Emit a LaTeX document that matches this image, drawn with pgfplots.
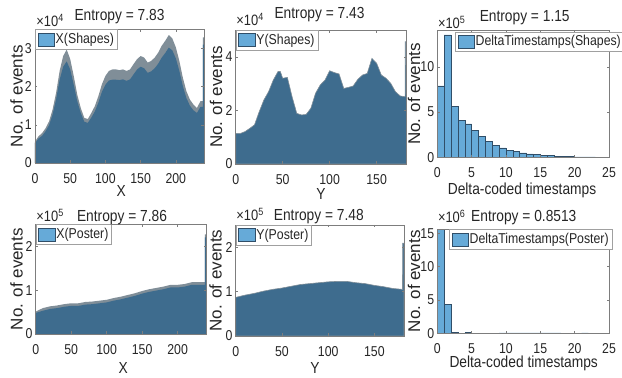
\documentclass[border=0pt]{standalone}
\usepackage{fontspec}
\setmainfont{Liberation Sans}[FakeStretch=0.86]
\newfontfamily\ylabfont{Liberation Sans}
\usepackage{pgfplots}
\pgfplotsset{compat=1.18}
\definecolor{mltext}{RGB}{38,38,38}
\definecolor{mlaxis}{RGB}{125,125,125}
\definecolor{mlblue}{RGB}{102,170,216}
\definecolor{mledge}{RGB}{48,78,104}
\definecolor{dkfill}{RGB}{62,108,142}
\definecolor{gyband}{RGB}{128,142,152}
\definecolor{lgbox}{RGB}{160,160,160}
\newcommand\tickfont{\fontsize{14.3}{14.3}\selectfont}
\newcommand\labfont{\fontsize{16}{16}\selectfont}
\newcommand\legfont{\fontsize{14.3}{14.3}\selectfont}
\newcommand\expfont{\fontsize{15}{15}\selectfont}
\newcommand\ylfont{\ylabfont\fontsize{17}{17}\selectfont}
\pgfplotsset{
  ml/.style={
    scale only axis, anchor=south west, axis on top,
    xmin=0, ymin=0,
    axis line style={draw=mlaxis, line width=0.5pt},
    tick style={draw=mlaxis, line width=0.5pt},
    major tick length=2.5pt, tick align=inside,
    xtick pos=both, ytick pos=both,
    ticklabel style={font=\tickfont, text=mltext},
    xticklabel style={inner sep=0pt, anchor=north, yshift=-10pt},
    yticklabel style={inner sep=0pt, anchor=east, xshift=-3pt},
    scaled ticks=false,
    legend style={at={(0,1)}, anchor=north west, draw=lgbox, line width=0.5pt, fill=white,
      font=\legfont, text=mltext, inner xsep=2.3pt, inner ysep=2.6pt,
      nodes={inner sep=1pt, text depth=0.2em}},
    legend cell align=left,
    legend image code/.code={\draw[fill=mlblue, draw=mledge, line width=0.5pt] (0pt,-6.5pt) rectangle (16.7pt,6.5pt);},
  },
}
\begin{document}
\begin{tikzpicture}
\path[use as bounding box] (0,0) rectangle (622pt,378pt);
\clip (0,0) rectangle (622pt,378pt);
% ---------- P1 X(Shapes) x10^4
\begin{axis}[ml, at={(35pt,215pt)}, width=169pt, height=133.7pt, xmax=240, ymax=3.5,
  xtick={0,50,100,150,200}, xticklabels={0,50,100,150,200},
  ytick={0,1,2,3}, yticklabels={0,1,2,3}]
\addplot[fill=gyband, draw=none, forget plot] coordinates {
(0,0.56)(5,0.70)(10,0.78)(15,0.91)(20,1.09)(25,1.40)(30,1.84)(35,2.41)(40,2.80)(45,2.97)
(50,2.72)(55,2.28)(60,1.79)(65,1.44)(70,1.18)(75,1.15)(80,1.31)(85,1.49)(90,1.75)(95,2.06)
(100,2.28)(105,2.41)(110,2.45)(115,2.45)(120,2.43)(125,2.45)(130,2.41)(135,2.45)(140,2.59)(145,2.72)
(150,2.80)(155,2.76)(160,2.63)(165,2.67)(170,2.76)(175,2.89)(180,3.07)(185,3.20)(190,3.35)(195,3.26)
(200,3.03)(205,2.67)(210,2.23)(215,1.88)(220,1.66)(225,1.53)(230,1.44)(235,1.62)(238.4,1.62)
(238.5,3.29)(240,3.29)} \closedcycle;
\addplot[fill=dkfill, draw=none, forget plot] coordinates {
(0,0.52)(5,0.64)(10,0.71)(15,0.83)(20,0.99)(25,1.27)(30,1.67)(35,2.18)(40,2.52)(45,2.66)
(50,2.45)(55,2.05)(60,1.62)(65,1.31)(70,1.08)(75,1.05)(80,1.19)(85,1.35)(90,1.58)(95,1.86)
(100,2.05)(105,2.16)(110,2.18)(115,2.18)(120,2.17)(125,2.19)(130,2.15)(135,2.19)(140,2.32)(145,2.45)
(150,2.52)(155,2.48)(160,2.36)(165,2.40)(170,2.48)(175,2.60)(180,2.76)(185,2.88)(190,3.02)(195,2.95)
(200,2.74)(205,2.41)(210,2.01)(215,1.70)(220,1.50)(225,1.38)(230,1.31)(235,1.47)(238.4,1.47)
(238.5,3.10)(240,3.10)} \closedcycle;
\addlegendimage{mledge}
\addlegendentry{X(Shapes)}
\end{axis}
% ---------- P2 Y(Shapes) x10^4
\begin{axis}[ml, at={(235.7pt,214pt)}, width=171pt, height=134pt, xmax=182, ymax=5,
  xtick={0,50,100,150}, xticklabels={0,50,100,150},
  ytick={0,2,4}, yticklabels={0,2,4}]
\addplot[fill=dkfill, draw=gyband, line width=0.6pt, forget plot] coordinates {
(0,1.14)(5,1.14)(10,1.21)(15,1.33)(20,1.46)(25,1.95)(30,2.39)(35,2.70)(40,3.13)(45,3.45)(47.5,3.45)
(50,3.20)(55,3.23)(60,2.51)(65,1.89)(70,1.83)(75,1.85)(80,2.08)(85,2.64)(90,2.95)(95,3.13)
(100,3.48)(105,3.41)(110,3.36)(115,2.82)(120,2.86)(125,2.91)(130,3.16)(135,3.32)(140,3.38)(145,3.94)
(150,3.76)(155,3.32)(160,3.20)(165,3.01)(170,2.70)(175,2.54)(180.4,2.51)(180.5,4.56)(182,4.56)} \closedcycle;
\addlegendimage{mledge}
\addlegendentry{Y(Shapes)}
\end{axis}
% ---------- P3 DeltaTimestamps(Shapes) x10^5
\begin{axis}[ml, at={(437.3pt,220.7pt)}, width=171.7pt, height=126.6pt, xmax=25, ymax=14,
  xtick={0,5,10,15,20,25}, xticklabels={0,5,10,15,20,25},
  ytick={0,5,10}, yticklabels={0,5,10},
  legend style={at={(0.103,0.993)}}]
\addplot[ybar interval, fill=mlblue, draw=mledge, line width=0.5pt, forget plot] coordinates {
(0,7.9)(1,13.55)(2,5.6)(3,4.1)(4,3.7)(5,3.0)(6,2.3)(7,1.75)(8,1.35)(9,1.05)
(10,0.8)(11,0.62)(12,0.5)(13,0.38)(14,0.3)(15,0.23)(16,0.18)(17,0.14)(18,0.11)(19,0.08)
(20,0.06)(21,0.045)(22,0.035)(23,0.025)(24,0.02)(25,0.02)};
\addlegendimage{mledge}
\addlegendentry{DeltaTimestamps(Shapes)}
\end{axis}
% ---------- P4 X(Poster) x10^5
\begin{axis}[ml, at={(35.7pt,44pt)}, width=170.3pt, height=109.7pt, xmax=240, ymax=2.5,
  xtick={0,50,100,150,200}, xticklabels={0,50,100,150,200},
  ytick={0,1,2}, yticklabels={0,1,2}]
\addplot[fill=gyband, draw=none, forget plot] coordinates {
(0,0.51)(10,0.59)(20,0.63)(30,0.65)(40,0.68)(50,0.70)(60,0.70)(70,0.73)(80,0.74)(90,0.76)
(100,0.78)(110,0.82)(120,0.85)(130,0.89)(140,0.93)(150,0.98)(160,1.02)(170,1.05)(180,1.08)(190,1.12)
(200,1.12)(210,1.14)(220,1.18)(230,1.18)(238.4,1.18)(238.5,2.27)(240,2.27)} \closedcycle;
\addplot[fill=dkfill, draw=none, forget plot] coordinates {
(0,0.48)(10,0.53)(20,0.57)(30,0.59)(40,0.62)(50,0.64)(60,0.64)(70,0.67)(80,0.68)(90,0.70)
(100,0.72)(110,0.76)(120,0.79)(130,0.83)(140,0.87)(150,0.92)(160,0.96)(170,0.99)(180,1.02)(190,1.06)
(200,1.06)(210,1.08)(220,1.12)(230,1.12)(238.4,1.12)(238.5,2.2)(240,2.2)} \closedcycle;
\addlegendimage{mledge}
\addlegendentry{X(Poster)}
\end{axis}
% ---------- P5 Y(Poster) x10^5
\begin{axis}[ml, at={(235.7pt,42pt)}, width=168.3pt, height=111pt, xmax=182, ymax=2.5,
  xtick={0,50,100,150}, xticklabels={0,50,100,150},
  ytick={0,1,2}, yticklabels={0,1,2}]
\addplot[fill=dkfill, draw=gyband, line width=0.6pt, forget plot] coordinates {
(0,0.87)(10,0.92)(20,0.96)(30,1.01)(40,1.05)(50,1.08)(60,1.12)(70,1.16)(80,1.18)(90,1.20)
(100,1.22)(110,1.23)(120,1.23)(130,1.20)(140,1.18)(150,1.14)(160,1.11)(170,1.07)(180.4,1.05)
(180.5,2.09)(182,2.09)} \closedcycle;
\addlegendimage{mledge}
\addlegendentry{Y(Poster)}
\end{axis}
% ---------- P6 DeltaTimestamps(Poster) x10^6
\begin{axis}[ml, at={(437.3pt,44.7pt)}, width=171.7pt, height=104pt, xmax=25, ymax=15.6,
  xtick={0,5,10,15,20,25}, xticklabels={0,5,10,15,20,25},
  ytick={0,5,10,15}, yticklabels={0,5,10,15},
  legend style={at={(0.068,1)}}]
\addplot[ybar interval, fill=mlblue, draw=mledge, line width=0.5pt, forget plot] coordinates {
(0,15.6)(1,4.35)(2,0.15)(3,0.04)(4,0.1)(5,0.03)(6,0.02)(7,0.02)(8,0.03)(9,0.06)
(10,0.05)(11,0.05)(12,0.05)(13,0.05)(14,0.05)(15,0.06)(16,0.05)(17,0.05)(18,0.02)(19,0.02)
(20,0.02)(21,0.08)(22,0.02)(23,0.02)(24,0.02)(25,0.02)};
\addlegendimage{mledge}
\addlegendentry{DeltaTimestamps(Poster)}
\end{axis}
% ---------- titles
\begin{scope}[every node/.style={text=mltext, inner sep=0pt}]
\node[anchor=base, font=\labfont] at (119.5pt,357.3pt) {Entropy = 7.83};
\node[anchor=base, font=\labfont] at (319.5pt,359pt) {Entropy = 7.43};
\node[anchor=base, font=\labfont] at (524.7pt,356.5pt) {Entropy = 1.15};
\node[anchor=base, font=\labfont] at (122pt,156.3pt) {Entropy = 7.86};
\node[anchor=base, font=\labfont] at (318.8pt,157.3pt) {Entropy = 7.48};
\node[anchor=base, font=\labfont] at (523.8pt,156.3pt) {Entropy = 0.8513};
% exponent labels
\node[anchor=base west, font=\expfont] at (36.2pt,351.5pt) {×10\textsuperscript{4}};
\node[anchor=base west, font=\expfont] at (236.2pt,352pt) {×10\textsuperscript{4}};
\node[anchor=base west, font=\expfont] at (437.8pt,349.7pt) {×10\textsuperscript{5}};
\node[anchor=base west, font=\expfont] at (36.2pt,156.3pt) {×10\textsuperscript{5}};
\node[anchor=base west, font=\expfont] at (236.2pt,157.3pt) {×10\textsuperscript{5}};
\node[anchor=base west, font=\expfont] at (437.8pt,155.3pt) {×10\textsuperscript{6}};
% x labels
\node[anchor=base, font=\labfont] at (121.3pt,181.3pt) {X};
\node[anchor=base, font=\labfont] at (321pt,178.5pt) {Y};
\node[anchor=base, font=\labfont] at (522pt,183pt) {Delta-coded timestamps};
\node[anchor=base, font=\labfont] at (123.3pt,4pt) {X};
\node[anchor=base, font=\labfont] at (315pt,4pt) {Y};
\node[anchor=base, font=\labfont] at (523.7pt,10pt) {Delta-coded timestamps};
% y labels
\node[rotate=90, anchor=base, font=\ylfont] at (22.7pt,281.8pt) {No. of events};
\node[rotate=90, anchor=base, font=\ylfont] at (222pt,281pt) {No. of events};
\node[rotate=90, anchor=base, font=\ylfont] at (420pt,284pt) {No. of events};
\node[rotate=90, anchor=base, font=\ylfont] at (22.7pt,98.8pt) {No. of events};
\node[rotate=90, anchor=base, font=\ylfont] at (221.7pt,97.5pt) {No. of events};
\node[rotate=90, anchor=base, font=\ylfont] at (420pt,96.7pt) {No. of events};
\end{scope}
\end{tikzpicture}
\end{document}
